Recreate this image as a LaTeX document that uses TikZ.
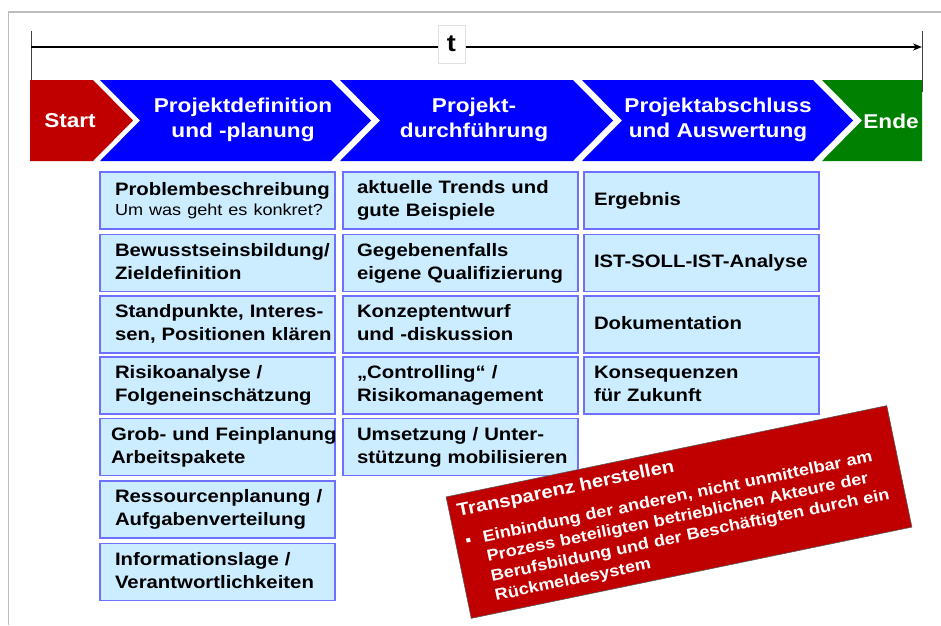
\documentclass[tikz,border=0pt]{standalone}
\usepackage{fontspec}
\setmainfont{Liberation Sans}[FakeStretch=1.13]
\usetikzlibrary{arrows.meta}
\definecolor{phred}{HTML}{C00000}
\definecolor{phblue}{HTML}{0000FF}
\definecolor{phgreen}{HTML}{008000}
\definecolor{taskfill}{HTML}{CCECFF}
\definecolor{taskline}{HTML}{7070FF}
\definecolor{framegray}{HTML}{BDBDBD}

\begin{document}
\begin{tikzpicture}[x=1pt,y=-1pt,
  phase/.style={text=white,font=\fontsize{20}{25}\selectfont\bfseries,
                align=center},
  task/.style={rectangle,fill=taskfill,draw=taskline,line width=1.2pt,
               minimum height=57pt,inner ysep=2pt,inner xsep=#1,
               text width={235pt-2*#1},align=left,
               font=\fontsize{18}{23}\selectfont\bfseries,
               execute at begin node={\rightskip=0pt plus 1fil minus 40pt\strut},
               execute at end node=\strut},
  task/.default=15pt,
  note/.style={rectangle,fill=phred,draw=black!65,line width=0.6pt,
               text=white,font=\fontsize{16}{20}\selectfont\bfseries,
               text width=434pt,inner xsep=8pt,minimum height=124pt,
               align=left,
               execute at begin node={\rightskip=0pt plus 1fil minus 40pt}},
  tlabel/.style={fill=white,draw=black!12,line width=0.5pt,
                 minimum width=27pt,minimum height=38pt,inner sep=0pt,
                 font=\fontsize{24}{24}\selectfont\bfseries},
  timeline/.style={-{Stealth[length=9pt,width=7pt]},line width=2pt},
  tick/.style={line width=0.8pt,black!75}
]
  \useasboundingbox (0,0) rectangle (941,625);

  % ---- Frame ---------------------------------------------------
  \draw[framegray,line width=1.5pt] (8.5,625) -- (8.5,12) -- (941,12);

  % ---- Time axis -----------------------------------------------
  \coordinate (t0) at (31,47);
  \coordinate (t1) at (922,47);
  \draw[tick] (t0) ++(0,-16) -- ++(0,60);
  \draw[tick] (t1) ++(0,-16) -- ++(0,61);
  \draw[timeline] (t0) -- (t1);
  \node[tlabel] (tlab) at (451.5,44) {t};

  % ---- Phase chevrons ------------------------------------------
  \fill[phred] (30,80) -- (93,80) -- (133,120.5) -- (93,161) -- (30,161) -- cycle;
  \fill[phblue] (100,80) -- (331,80) -- (371,120.5) -- (331,161) -- (100,161)
    -- (140,120.5) -- cycle;
  \fill[phblue] (340,80) -- (573,80) -- (613,120.5) -- (573,161) -- (340,161)
    -- (380,120.5) -- cycle;
  \fill[phblue] (582,80) -- (813,80) -- (853,120.5) -- (813,161) -- (582,161)
    -- (622,120.5) -- cycle;
  \fill[phgreen] (822,80) -- (922,80) -- (922,161) -- (822,161)
    -- (862,120.5) -- cycle;

  \node[phase] (start) at (70,121) {Start};
  \node[phase] (pdef) at (243,120) {Projektdefinition\\und -planung};
  \node[phase] (pdur) at (474,120) {Projekt-\\durchführung};
  \node[phase] (pabs) at (718,120) {Projektabschluss\\und Auswertung};
  \node[phase] (ende) at (891,121) {Ende};

  % ---- Tasks: Projektdefinition --------------------------------
  \node[task] (def1) at (217.5,200.5)
    {Problembeschreibung\\[-3pt]{\fontsize{16}{20}\selectfont\mdseries Um was geht es konkret?}};
  \node[task] (def2) at (217.5,263) {Bewusstseinsbildung/\\Zieldefinition};
  \node[task] (def3) at (217.5,324.5) {Standpunkte, Interes-\\sen, Positionen klären};
  \node[task] (def4) at (217.5,385.5) {Risikoanalyse /\\Folgeneinschätzung};
  \node[task=11pt] (def5) at (217.5,447) {Grob- und Feinplanung\\Arbeitspakete};
  \node[task] (def6) at (217.5,509.5) {Ressourcenplanung /\\Aufgabenverteilung};
  \node[task] (def7) at (217.5,572) {Informationslage /\\Verantwortlichkeiten};

  % ---- Tasks: Projektdurchführung ------------------------------
  \node[task=14pt] (dur1) at (460.5,200.5) {aktuelle Trends und\\gute Beispiele};
  \node[task=14pt] (dur2) at (460.5,263) {Gegebenenfalls\\eigene Qualifizierung};
  \node[task=14pt] (dur3) at (460.5,324.5) {Konzeptentwurf\\und -diskussion};
  \node[task=14pt] (dur4) at (460.5,385.5) {„Controlling“ /\\Risikomanagement};
  \node[task=14pt] (dur5) at (460.5,447) {Umsetzung / Unter-\\stützung mobilisieren};

  % ---- Tasks: Projektabschluss ---------------------------------
  \node[task=10pt] (abs1) at (701.5,200.5) {Ergebnis};
  \node[task=10pt] (abs2) at (701.5,263) {IST-SOLL-IST-Analyse};
  \node[task=10pt] (abs3) at (701.5,324.5) {Dokumentation};
  \node[task=10pt] (abs4) at (701.5,385.5) {Konsequenzen\\für Zukunft};

  % ---- Transparency note ---------------------------------------
  \node[note,rotate=11.7] (transp) at (679,512)
    {{\fontsize{18}{22}\selectfont Transparenz herstellen}\\[10pt]
     \makebox[20pt][l]{\hspace{3pt}\rule[3pt]{4pt}{4pt}}Einbindung der anderen, nicht unmittelbar am\\
     \hspace*{20pt}Prozess beteiligten betrieblichen Akteure der\\
     \hspace*{20pt}Berufsbildung und der Beschäftigten durch ein\\
     \hspace*{20pt}Rückmeldesystem};

\end{tikzpicture}
\end{document}
